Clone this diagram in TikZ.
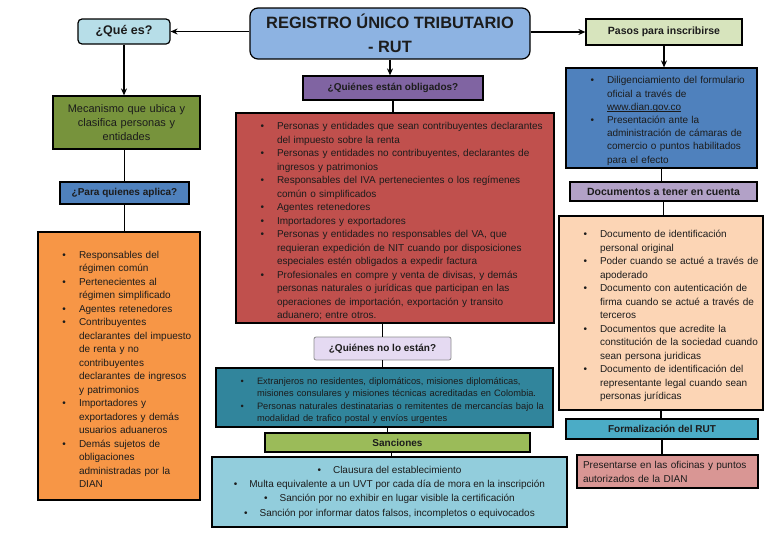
\documentclass[tikz,border=0pt]{standalone}
\usepackage{fontspec}
\setmainfont{Liberation Sans}
\usepackage{enumitem}
\usetikzlibrary{arrows.meta}
\definecolor{txt}{HTML}{1C1C1C}
\definecolor{cTitulo}{HTML}{8DB3E2}
\definecolor{cQue}{HTML}{B7DEE8}
\definecolor{cMecan}{HTML}{77933C}
\definecolor{cAplica}{HTML}{4F81BD}
\definecolor{cSujetos}{HTML}{F79646}
\definecolor{cOblig}{HTML}{8064A2}
\definecolor{cLista}{HTML}{C0504D}
\definecolor{cNoEstan}{HTML}{E5DAF2}
\definecolor{cExentos}{HTML}{31859C}
\definecolor{cSanc}{HTML}{9BBB59}
\definecolor{cMultas}{HTML}{92CDDC}
\definecolor{cPasos}{HTML}{D7E4BD}
\definecolor{cTramite}{HTML}{4F81BD}
\definecolor{cDocs}{HTML}{B2A1C7}
\definecolor{cReq}{HTML}{FCD5B5}
\definecolor{cFormal}{HTML}{4BACC6}
\definecolor{cOficinas}{HTML}{D99694}
\setlist[itemize]{nosep,leftmargin=37pt,labelsep=13pt,label=\textbullet}
\newcommand\enlace[1]{\setbox0\hbox{#1}\rlap{\rule[-1.6pt]{\wd0}{0.5pt}}\box0}

\begin{document}
\begin{tikzpicture}[x=1pt,y=-1pt,
    box/.style={draw=black, line width=1.2pt, inner sep=0pt, text=txt},
    head/.style={box, font=\bfseries\fontsize{10}{12}\selectfont},
    list/.style={box, align=left, font=\fontsize{10}{13.5}\selectfont},
    arr/.style={-{Stealth[length=7pt,width=6pt]}, line width=1.4pt},
    con/.style={line width=1.4pt}]
    \useasboundingbox (0,0) rectangle (768,544);

    \node[box, rounded corners=8pt, fill=cTitulo, minimum width=280pt, minimum height=51pt, align=center, font=\bfseries\fontsize{16.4}{24}\selectfont] (rut) at (390,33.5) {REGISTRO ÚNICO TRIBUTARIO\\- RUT};

    \node[head, rounded corners=4pt, fill=cQue, minimum width=92pt, minimum height=25pt, font=\bfseries\fontsize{12.5}{14}\selectfont] (quees) at (124,31.5) {¿Qué es?};
    \node[box, fill=cMecan, minimum width=147pt, minimum height=53pt, text width=135pt, align=center, font=\fontsize{11}{14}\selectfont] (mecan) at (126.5,122.5) {Mecanismo que ubica y\\clasifica personas y\\entidades};
    \node[head, fill=cAplica, minimum width=129pt, minimum height=22pt] (aplica) at (124.5,193) {¿Para quienes aplica?};
    \node[list, fill=cSujetos, minimum width=162pt, minimum height=268pt, text width=154pt] (sujetos) at (119,366) {\begin{itemize}
        \item Responsables del\newline régimen común
        \item Pertenecientes al\newline régimen simplificado
        \item Agentes retenedores
        \item Contribuyentes\newline declarantes del impuesto\newline de renta y no\newline contribuyentes\newline declarantes de ingresos\newline y patrimonios
        \item Importadores y\newline exportadores y demás\newline usuarios aduaneros
        \item Demás sujetos de\newline obligaciones\newline administradas por la\newline DIAN
    \end{itemize}};

    \node[head, fill=cOblig, minimum width=180pt, minimum height=24pt] (oblig) at (393,88) {¿Quiénes están obligados?};
    \node[list, fill=cLista, minimum width=318pt, minimum height=210pt, text width=310pt] (obligados) at (395,218) {\begin{itemize}
        \item Personas y entidades que sean contribuyentes declarantes\newline del impuesto sobre la renta
        \item Personas y entidades no contribuyentes, declarantes de\newline ingresos y patrimonios
        \item Responsables del IVA pertenecientes o los regímenes\newline común o simplificados
        \item Agentes retenedores
        \item Importadores y exportadores
        \item Personas y entidades no responsables del VA, que\newline requieran expedición de NIT cuando por disposiciones\newline especiales estén obligados a expedir factura
        \item Profesionales en compre y venta de divisas, y demás\newline personas naturales o jurídicas que participan en las\newline operaciones de importación, exportación y transito\newline aduanero; entre otros.
    \end{itemize}};
    \node[head, draw=black!45, line width=0.8pt, rounded corners=2pt, fill=cNoEstan, minimum width=137pt, minimum height=23pt] (noestan) at (382.5,348.5) {¿Quiénes no lo están?};
    \node[list, fill=cExentos, minimum width=337pt, minimum height=59pt, text width=329pt, font=\fontsize{9.3}{12.5}\selectfont] (exentos) at (384.5,397.5) {\begin{itemize}
        \item Extranjeros no residentes, diplomáticos, misiones diplomáticas,\newline misiones consulares y misiones técnicas acreditadas en Colombia.
        \item Personas naturales destinatarias o remitentes de mercancías bajo la\newline modalidad de trafico postal y envíos urgentes
    \end{itemize}};
    \node[head, fill=cSanc, minimum width=265pt, minimum height=19pt] (sanciones) at (397.5,442.5) {Sanciones};
    \node[box, line width=2.4pt, fill=cMultas, minimum width=355pt, minimum height=70pt, align=center, font=\fontsize{10}{14.3}\selectfont] (multas) at (389.5,492) {\textbullet\hspace{12pt}Clausura del establecimiento\\
        \textbullet\hspace{12pt}Multa equivalente a un UVT por cada día de mora en la inscripción\\
        \textbullet\hspace{12pt}Sanción por no exhibir en lugar visible la certificación\\
        \textbullet\hspace{12pt}Sanción por informar datos falsos, incompletos o equivocados};

    \node[head, fill=cPasos, minimum width=156pt, minimum height=26pt, font=\bfseries\fontsize{10.5}{12}\selectfont] (pasos) at (664,32) {Pasos para inscribirse};
    \node[list, fill=cTramite, minimum width=191pt, minimum height=100pt, text width=183pt, font=\fontsize{10}{13.2}\selectfont] (tramite) at (661.5,118) {\begin{itemize}
        \item Diligenciamiento del formulario\newline oficial a través de\newline \enlace{www.dian.gov.co}
        \item Presentación ante la\newline administración de cámaras de\newline comercio o puntos habilitados\newline para el efecto
    \end{itemize}};
    \node[head, fill=cDocs, minimum width=187pt, minimum height=19pt, font=\bfseries\fontsize{10.5}{12}\selectfont] (docs) at (663.5,191.5) {Documentos a tener en cuenta};
    \node[list, fill=cReq, minimum width=204pt, minimum height=194pt, text width=196pt] (requisitos) at (661,313) {\begin{itemize}
        \item Documento de identificación\newline personal original
        \item Poder cuando se actué a través de\newline apoderado
        \item Documento con autenticación de\newline firma cuando se actué a través de\newline terceros
        \item Documentos que acredite la\newline constitución de la sociedad cuando\newline sean persona juridicas
        \item Documento de identificación del\newline representante legal cuando sean\newline personas jurídicas
    \end{itemize}};
    \node[head, fill=cFormal, minimum width=192pt, minimum height=20pt] (formal) at (662,429) {Formalización del RUT};
    \node[box, fill=cOficinas, minimum width=181pt, minimum height=33pt, text width=169pt, align=left, font=\fontsize{10}{14}\selectfont] (oficinas) at (667.5,471.5) {Presentarse en las oficinas y puntos\\autorizados de la DIAN};

    \draw[arr] (rut.west |- quees.east) -- (quees.east);
    \draw[arr] (rut.east |- pasos.west) -- (pasos.west);
    \draw[arr] (quees.south) -- (quees.south |- mecan.north);
    \draw[con] (mecan.south -| aplica.north) -- (aplica.north);
    \draw[con] (aplica.south) -- (aplica.south |- sujetos.north);
    \draw[arr] (rut.south) -- (rut.south |- oblig.north);
    \draw[con] (oblig.south) -- (oblig.south |- obligados.north);
    \draw[con] (noestan.north |- obligados.south) -- (noestan.north);
    \draw[con] (noestan.south) -- (noestan.south |- exentos.north);
    \draw[con] ([xshift=-10pt]sanciones.north |- exentos.south) -- ([xshift=-10pt]sanciones.north);
    \draw[con] ([xshift=-6pt]sanciones.south) -- ([xshift=-6pt]sanciones.south |- multas.north);
    \draw[arr] (pasos.south) -- (pasos.south |- tramite.north);
    \draw[con] (tramite.south) -- (tramite.south |- docs.north);
    \draw[con] (docs.south) -- (docs.south |- requisitos.north);
    \draw[con] (requisitos.south) -- (requisitos.south |- formal.north);
    \draw[con] (formal.south) -- (formal.south |- oficinas.north);
\end{tikzpicture}
\end{document}
